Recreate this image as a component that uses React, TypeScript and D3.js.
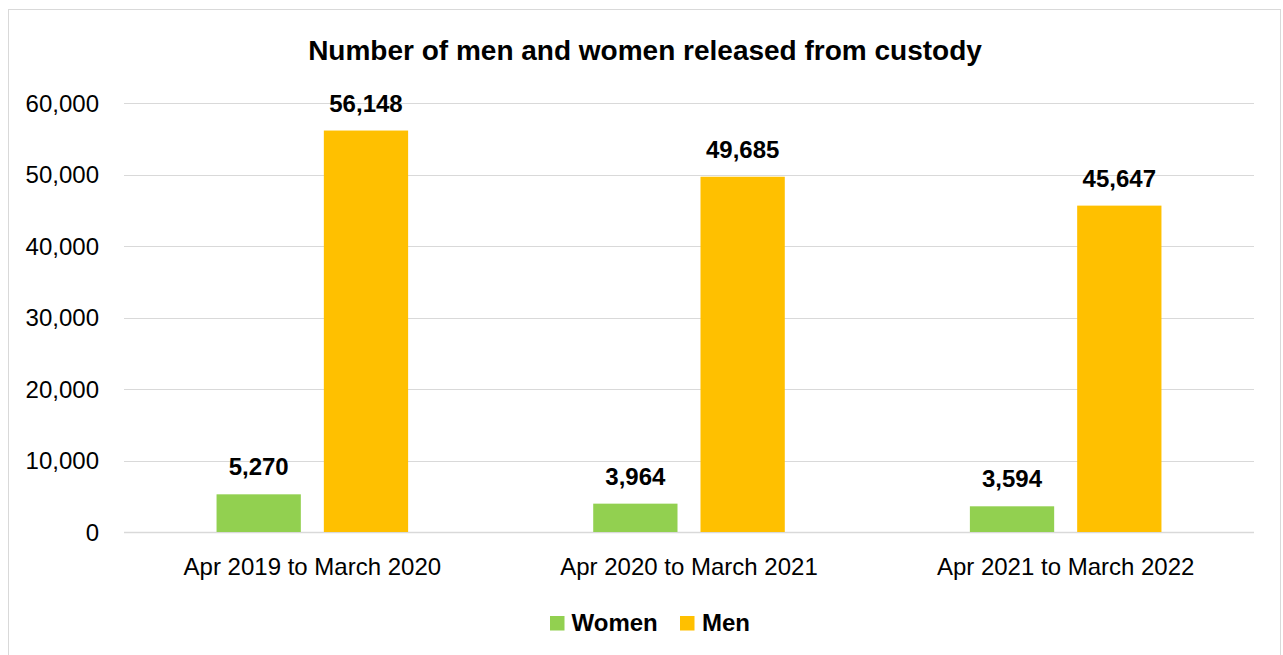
import React from "react";
import * as d3 from "d3";

const categories = ["Apr 2019 to March 2020", "Apr 2020 to March 2021", "Apr 2021 to March 2022"];
const seriesNames = ["Women", "Men"];
const womenValues = [5270, 3964, 3594];
const menValues = [56148, 49685, 45647];
const yTicks = [0, 10000, 20000, 30000, 40000, 50000, 60000];
const seriesColors = ["#92D050", "#FFC000"];
const title = "Number of men and women released from custody";

const W = 1283;
const H = 655;
const FONT = "'Liberation Sans', Arial, sans-serif";

export default function App() {
  const x0 = d3.scaleBand<string>().domain(categories).range([124, 1254]).paddingInner(0).paddingOuter(0);
  const x1 = d3
    .scaleBand<string>()
    .domain(seriesNames)
    .range([0, x0.bandwidth()])
    .paddingInner(0.2144)
    .paddingOuter(0.8626);
  const y = d3.scaleLinear().domain([0, 60000]).range([532, 103]);
  const fmt = d3.format(",");
  const values = [womenValues, menValues];

  return (
    <svg width={W} height={H} style={{ position: "absolute", left: 0, top: 0, background: "#fff" }}>
      <rect x={8.5} y={9.5} width={1272} height={660} fill="#fff" stroke="#D9D9D9" strokeWidth={1} />
      <text x={645} y={60} textAnchor="middle" fontFamily={FONT} fontWeight="bold" fontSize={28} fill="#000">
        {title}
      </text>
      {yTicks.map((t) => (
        <g key={t}>
          <line x1={124} x2={1254} y1={Math.round(y(t)) + 0.5} y2={Math.round(y(t)) + 0.5} stroke="#D9D9D9" strokeWidth={t === 0 ? 1.5 : 1.2} />
          <text x={99} y={y(t) + 8.5} textAnchor="end" fontFamily={FONT} fontSize={24} fill="#000">
            {fmt(t)}
          </text>
        </g>
      ))}
      {categories.map((c, ci) => (
        <g key={c} transform={`translate(${x0(c)},0)`}>
          {seriesNames.map((s, si) => {
            const v = values[si][ci];
            const bx = x1(s) as number;
            return (
              <g key={s}>
                <rect x={bx} y={y(v)} width={x1.bandwidth()} height={y(0) - y(v)} fill={seriesColors[si]} />
                <text
                  x={bx + x1.bandwidth() / 2}
                  y={y(v) - 19}
                  textAnchor="middle"
                  fontFamily={FONT}
                  fontWeight="bold"
                  fontSize={24}
                  fill="#000"
                >
                  {fmt(v)}
                </text>
              </g>
            );
          })}
          <text x={x0.bandwidth() / 2} y={575} textAnchor="middle" fontFamily={FONT} fontSize={24} fill="#000">
            {c}
          </text>
        </g>
      ))}
      <g>
        <rect x={550} y={616} width={14.5} height={14.5} fill={seriesColors[0]} />
        <text x={571.5} y={631} fontFamily={FONT} fontWeight="bold" fontSize={24} fill="#000">
          {seriesNames[0]}
        </text>
        <rect x={680} y={616} width={14.5} height={14.5} fill={seriesColors[1]} />
        <text x={702} y={631} fontFamily={FONT} fontWeight="bold" fontSize={24} fill="#000">
          {seriesNames[1]}
        </text>
      </g>
    </svg>
  );
}
